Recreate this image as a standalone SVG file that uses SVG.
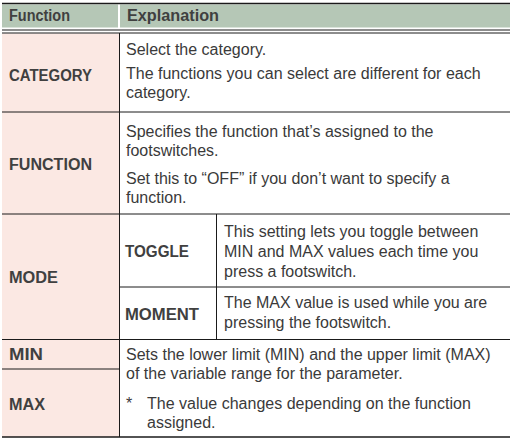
<svg xmlns="http://www.w3.org/2000/svg" width="514" height="445" viewBox="0 0 514 445">
<style>
.hd{fill:#b5c7b6}
.pk{fill:#fbe8e3}
.ln{stroke:#1a1a1a;stroke-width:1;fill:none}
.lt{stroke:#1a1a1a;stroke-width:1.5;fill:none}
.lb{font-family:"Liberation Sans",Arial,sans-serif;font-weight:bold;font-size:16px;fill:#404040}
.tx{font-family:"Liberation Sans",Arial,sans-serif;font-size:16px;fill:#3a3a3a}
</style>
<rect width="514" height="445" fill="#ffffff"/>
<g id="header">
<rect class="hd" x="2" y="4.5" width="116" height="23"/>
<rect class="hd" x="120" y="4.5" width="390" height="23"/>
<text class="lb" x="9" y="21" textLength="61" lengthAdjust="spacingAndGlyphs">Function</text>
<text class="lb" x="127" y="21" textLength="92" lengthAdjust="spacingAndGlyphs">Explanation</text>
</g>
<rect id="label-column" class="pk" x="2" y="33.5" width="117" height="403.5"/>
<g id="row-category">
<text class="lb" x="9" y="80.5" textLength="83" lengthAdjust="spacingAndGlyphs">CATEGORY</text>
<text class="tx" x="126" y="55">Select the category.</text>
<text class="tx" x="126" y="79">The functions you can select are different for each</text>
<text class="tx" x="126" y="98">category.</text>
</g>
<g id="row-function">
<text class="lb" x="9" y="170" textLength="83" lengthAdjust="spacingAndGlyphs">FUNCTION</text>
<text class="tx" x="126" y="137">Specifies the function that’s assigned to the</text>
<text class="tx" x="126" y="156">footswitches.</text>
<text class="tx" x="126" y="184">Set this to “OFF” if you don’t want to specify a</text>
<text class="tx" x="126" y="203">function.</text>
</g>
<g id="row-mode">
<text class="lb" x="9" y="283" textLength="49" lengthAdjust="spacingAndGlyphs">MODE</text>
</g>
<g id="row-toggle">
<text class="lb" x="125" y="256.5" textLength="64" lengthAdjust="spacingAndGlyphs">TOGGLE</text>
<text class="tx" x="224" y="237">This setting lets you toggle between</text>
<text class="tx" x="224" y="257">MIN and MAX values each time you</text>
<text class="tx" x="224" y="277">press a footswitch.</text>
</g>
<g id="row-moment">
<text class="lb" x="125" y="319.5" textLength="74" lengthAdjust="spacingAndGlyphs">MOMENT</text>
<text class="tx" x="224" y="308">The MAX value is used while you are</text>
<text class="tx" x="224" y="328">pressing the footswitch.</text>
</g>
<g id="row-minmax">
<text class="lb" x="9" y="360" textLength="34" lengthAdjust="spacingAndGlyphs">MIN</text>
<text class="lb" x="9" y="409.5" textLength="36" lengthAdjust="spacingAndGlyphs">MAX</text>
<text class="tx" x="126" y="360">Sets the lower limit (MIN) and the upper limit (MAX)</text>
<text class="tx" x="126" y="379">of the variable range for the parameter.</text>
<text class="tx" x="126" y="409">*</text>
<text class="tx" x="147" y="409">The value changes depending on the function</text>
<text class="tx" x="147" y="428">assigned.</text>
</g>
<g id="connectors">
<line class="lt" x1="2" y1="3.5" x2="510" y2="3.5"/>
<line class="ln" x1="2" y1="30" x2="510" y2="30"/>
<line class="ln" x1="2" y1="33" x2="510" y2="33"/>
<line class="ln" x1="119.5" y1="33" x2="119.5" y2="437"/>
<line class="ln" x1="2" y1="112" x2="510" y2="112"/>
<line class="ln" x1="2" y1="214" x2="510" y2="214"/>
<line class="ln" x1="216.5" y1="214" x2="216.5" y2="339.5"/>
<line class="ln" x1="119.5" y1="287" x2="510" y2="287"/>
<line class="ln" x1="2" y1="339.5" x2="510" y2="339.5"/>
<line class="ln" x1="2" y1="369" x2="119.5" y2="369"/>
<line class="lt" x1="2" y1="437" x2="510" y2="437"/>
</g>
</svg>
